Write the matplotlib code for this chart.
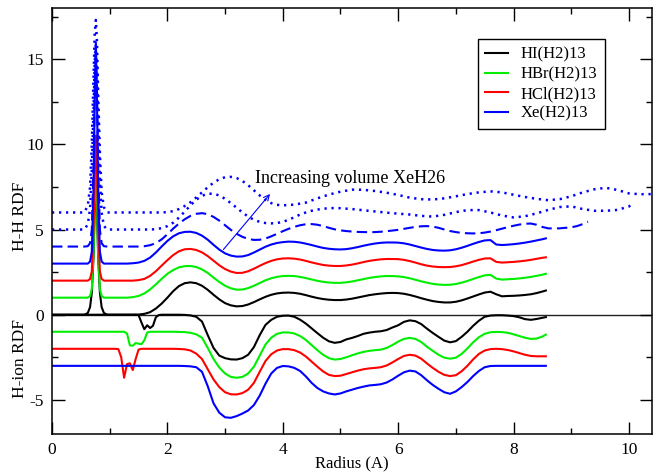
import matplotlib
matplotlib.use("Agg")
import matplotlib.pyplot as plt
from matplotlib.ticker import MultipleLocator

plt.rcParams['font.family'] = ['Liberation Serif', 'DejaVu Serif']
plt.rcParams['axes.unicode_minus'] = False

# ---------------- H-H RDF (raw g(r), drawn with a vertical offset) ----------------
r_hh = [0.0, 0.56, 0.62, 0.66, 0.69, 0.72, 0.74, 0.76, 0.78, 0.80, 0.83, 0.86, 0.90, 0.96,
        1.0, 1.1, 1.2, 1.3, 1.4, 1.5, 1.6, 1.7, 1.8, 1.9,
        2.0, 2.1, 2.2, 2.3, 2.4, 2.5, 2.6, 2.7, 2.8, 2.9,
        3.0, 3.1, 3.2, 3.3, 3.4, 3.5, 3.6, 3.7, 3.8, 3.9,
        4.0, 4.1, 4.2, 4.3, 4.4, 4.5, 4.6, 4.7, 4.8, 4.9,
        5.0, 5.1, 5.2, 5.3, 5.4, 5.5, 5.6, 5.7, 5.8, 5.9,
        6.0, 6.1, 6.2, 6.3, 6.4, 6.5, 6.6, 6.7, 6.8, 6.9,
        7.0, 7.1, 7.2, 7.3, 7.4, 7.5, 7.6, 7.7, 7.8, 7.9,
        8.0, 8.1, 8.2, 8.3, 8.4, 8.5, 8.56]

hh_hi = [0, 0, 0.1, 0.45, 1.3, 3.4, 6.0, 8.0, 6.0, 3.4, 1.3, 0.45, 0.1, 0,
         0, 0, 0, 0, 0, 0.01, 0.05, 0.15, 0.36, 0.65,
         1.0, 1.38, 1.68, 1.85, 1.9, 1.85, 1.7, 1.46, 1.17, 0.9,
         0.68, 0.55, 0.49, 0.51, 0.6, 0.74, 0.9, 1.05, 1.17, 1.25,
         1.29, 1.3, 1.28, 1.23, 1.15, 1.06, 0.98, 0.92, 0.88, 0.86,
         0.86, 0.89, 0.94, 1.01, 1.08, 1.15, 1.2, 1.24, 1.27, 1.28,
         1.27, 1.23, 1.16, 1.07, 0.97, 0.88, 0.8, 0.75, 0.72, 0.72,
         0.76, 0.84, 0.95, 1.07, 1.19, 1.3, 1.35, 1.2, 1.08, 1.1,
         1.11, 1.13, 1.16, 1.2, 1.27, 1.36, 1.42]

hh_hbr = [0, 0, 0, 0.1, 0.5, 2.6, 5.6, 7.6, 5.6, 2.6, 0.5, 0.1, 0, 0,
          0, 0, 0, 0, 0.03, 0.1, 0.25, 0.48, 0.78, 1.1,
          1.4, 1.62, 1.78, 1.85, 1.86, 1.8, 1.66, 1.45, 1.18, 0.92,
          0.7, 0.55, 0.47, 0.48, 0.56, 0.7, 0.86, 1.02, 1.14, 1.22,
          1.27, 1.28, 1.27, 1.22, 1.15, 1.07, 0.99, 0.93, 0.89, 0.87,
          0.87, 0.9, 0.95, 1.02, 1.09, 1.16, 1.21, 1.25, 1.27, 1.27,
          1.25, 1.21, 1.14, 1.05, 0.96, 0.88, 0.81, 0.77, 0.75, 0.76,
          0.8, 0.88, 0.98, 1.1, 1.21, 1.31, 1.34, 1.12, 1.06, 1.08,
          1.1, 1.13, 1.17, 1.22, 1.28, 1.35, 1.4]

hh_hcl = [0, 0, 0, 0.1, 0.55, 3.0, 6.3, 8.5, 6.3, 3.0, 0.55, 0.1, 0, 0,
          0, 0, 0, 0, 0, 0.03, 0.1, 0.28, 0.55, 0.88,
          1.2, 1.5, 1.72, 1.84, 1.86, 1.8, 1.66, 1.44, 1.17, 0.9,
          0.68, 0.53, 0.45, 0.46, 0.55, 0.7, 0.87, 1.03, 1.16, 1.25,
          1.3, 1.31, 1.29, 1.24, 1.16, 1.07, 0.99, 0.92, 0.88, 0.86,
          0.86, 0.89, 0.94, 1.01, 1.09, 1.16, 1.21, 1.25, 1.27, 1.27,
          1.26, 1.22, 1.15, 1.06, 0.96, 0.88, 0.83, 0.8, 0.79, 0.8,
          0.84, 0.91, 1.01, 1.12, 1.22, 1.3, 1.31, 1.1, 1.06, 1.08,
          1.1, 1.13, 1.17, 1.22, 1.28, 1.34, 1.37]

hh_xe = [0, 0, 0, 0.12, 0.7, 4.5, 9.5, 13.0, 9.5, 4.5, 0.7, 0.12, 0, 0,
         0, 0, 0, 0, 0.02, 0.06, 0.16, 0.35, 0.65, 1.0,
         1.33, 1.6, 1.78, 1.86, 1.87, 1.8, 1.64, 1.4, 1.1, 0.82,
         0.6, 0.47, 0.41, 0.42, 0.5, 0.65, 0.82, 0.99, 1.12, 1.21,
         1.26, 1.29, 1.28, 1.24, 1.17, 1.09, 1.0, 0.92, 0.87, 0.84,
         0.83, 0.85, 0.9, 0.97, 1.05, 1.12, 1.18, 1.22, 1.24, 1.24,
         1.23, 1.19, 1.12, 1.03, 0.94, 0.86, 0.8, 0.77, 0.76, 0.78,
         0.84, 0.93, 1.04, 1.16, 1.27, 1.36, 1.38, 1.12, 1.09, 1.11,
         1.14, 1.18, 1.23, 1.29, 1.36, 1.43, 1.48]

# XeH26 at increasing volume (dashed, then two dotted)
r_vol1 = r_hh[:-1] + [8.6, 8.7, 8.8, 8.9, 9.0, 9.1, 9.2, 9.29]
hh_vol1 = [0, 0, 0.02, 0.2, 1.0, 4.8, 9.0, 11.5, 9.0, 4.8, 1.0, 0.2, 0.02, 0,
           0, 0, 0, 0, 0, 0, 0.02, 0.08, 0.2, 0.42,
           0.72, 1.05, 1.35, 1.6, 1.8, 1.92, 1.96, 1.9, 1.74, 1.52,
           1.25, 0.98, 0.75, 0.57, 0.45, 0.39, 0.4, 0.47, 0.6, 0.75,
           0.9, 1.04, 1.16, 1.25, 1.31, 1.32, 1.28, 1.2, 1.1, 1.01,
           0.95, 0.91, 0.88, 0.86, 0.85, 0.84, 0.85, 0.87, 0.9, 0.94,
           0.98, 1.04, 1.1, 1.15, 1.19, 1.2, 1.17, 1.1, 1.0, 0.91,
           0.85, 0.8, 0.78, 0.77, 0.78, 0.82, 0.88, 0.96, 1.05, 1.14,
           1.22, 1.29, 1.34, 1.35, 1.28, 1.15,
           1.07, 1.06, 1.07, 1.1, 1.13, 1.2, 1.32, 1.46]

r_vol2 = [0.0, 0.56, 0.62, 0.66, 0.69, 0.72, 0.74, 0.76, 0.78, 0.80, 0.83, 0.86, 0.90, 0.96,
          1.0, 1.2, 1.4, 1.6, 1.7, 1.8, 1.9,
          2.0, 2.1, 2.2, 2.3, 2.4, 2.5, 2.6, 2.7, 2.8, 2.9,
          3.0, 3.1, 3.2, 3.3, 3.4, 3.5, 3.6, 3.7, 3.8, 3.9,
          4.0, 4.1, 4.2, 4.3, 4.4, 4.5, 4.6, 4.7, 4.8, 4.9, 5.0,
          5.2, 5.4, 5.6, 5.8, 6.0, 6.2, 6.4, 6.6, 6.8, 7.0,
          7.2, 7.4, 7.6, 7.8, 8.0, 8.2, 8.4, 8.6, 8.8, 9.0,
          9.2, 9.4, 9.6, 9.8, 10.0, 10.07]
hh_vol2 = [0, 0, 0.3, 1.2, 3.5, 7.0, 9.8, 10.8, 9.5, 6.5, 3.0, 1.0, 0.2, 0,
           0, 0, 0, 0, 0, 0.02, 0.08,
           0.2, 0.4, 0.7, 1.05, 1.42, 1.75, 1.98, 2.1, 2.1, 2.0,
           1.8, 1.55, 1.28, 1.0, 0.76, 0.57, 0.45, 0.38, 0.36, 0.38,
           0.45, 0.57, 0.72, 0.88, 1.0, 1.1, 1.17, 1.22, 1.25, 1.26, 1.25,
           1.2, 1.13, 1.06, 0.99, 0.93, 0.88, 0.8, 0.76, 0.86, 1.02,
           1.14, 1.14, 1.0, 0.82, 0.71, 0.78, 0.95, 1.15, 1.32, 1.36,
           1.2, 1.1, 1.1, 1.15, 1.35, 1.55]

r_vol3 = [0.0, 0.56, 0.62, 0.66, 0.69, 0.72, 0.74, 0.76, 0.78, 0.80, 0.83, 0.86, 0.90, 0.96,
          1.0, 1.2, 1.4, 1.6, 1.8,
          1.9, 2.0, 2.1, 2.2, 2.3, 2.4, 2.5, 2.6, 2.7, 2.8, 2.9,
          3.0, 3.1, 3.2, 3.3, 3.4, 3.5, 3.6, 3.7, 3.8, 3.9, 4.0,
          4.2, 4.4, 4.6, 4.8, 5.0, 5.2, 5.4, 5.6, 5.8, 6.0,
          6.2, 6.4, 6.6, 6.8, 7.0, 7.2, 7.4, 7.6, 7.8, 8.0,
          8.2, 8.4, 8.6, 8.8, 9.0, 9.2, 9.4, 9.6, 9.8, 10.0,
          10.2, 10.4]
hh_vol3 = [0, 0, 0.4, 1.5, 4.0, 8.0, 10.5, 11.3, 10.0, 7.0, 3.5, 1.2, 0.3, 0,
           0, 0, 0, 0, 0,
           0, 0.02, 0.08, 0.2, 0.38, 0.6, 0.88, 1.18, 1.48, 1.75, 1.95,
           2.07, 2.09, 2.02, 1.85, 1.6, 1.3, 1.0, 0.74, 0.55, 0.45, 0.42,
           0.46, 0.58, 0.83, 1.05, 1.22, 1.34, 1.33, 1.26, 1.16, 1.03,
           0.87, 0.78, 0.76, 0.83, 0.95, 1.08, 1.18, 1.24, 1.18, 1.04,
           0.91, 0.8, 0.72, 0.78, 0.95, 1.18, 1.36, 1.45, 1.32, 1.12,
           1.07, 1.08]

# ---------------- H-ion RDF (raw g(r), drawn downwards) ----------------
r_hion = [0.0, 1.1, 1.15, 1.2, 1.25, 1.3, 1.35, 1.4, 1.45, 1.5, 1.55, 1.6, 1.65, 1.7, 1.75, 1.8, 1.85, 1.9,
          2.0, 2.1, 2.2, 2.3, 2.4, 2.5, 2.6, 2.7, 2.8, 2.9,
          3.0, 3.1, 3.2, 3.3, 3.4, 3.5, 3.6, 3.7, 3.8, 3.9,
          4.0, 4.1, 4.2, 4.3, 4.4, 4.5, 4.6, 4.7, 4.8, 4.9,
          5.0, 5.1, 5.2, 5.3, 5.4, 5.5, 5.6, 5.7, 5.8, 5.9,
          6.0, 6.1, 6.2, 6.3, 6.4, 6.5, 6.6, 6.7, 6.8, 6.9,
          7.0, 7.1, 7.2, 7.3, 7.4, 7.5, 7.6, 7.7, 7.8, 7.9,
          8.0, 8.1, 8.2, 8.3, 8.4, 8.5, 8.56]

hion_hi = [0, 0, 0, 0, 0, 0, 0, 0, 0, 0.02, 0.45, 0.85, 0.62, 0.78, 0.65, 0.15, 0.02, 0,
           0, 0, 0, 0.01, 0.04, 0.12, 0.4, 1.2, 1.95, 2.4,
           2.55, 2.62, 2.63, 2.55, 2.35, 1.9, 1.2, 0.6, 0.3, 0.12,
           0.06, 0.05, 0.12, 0.29, 0.52, 0.8, 1.08, 1.35, 1.56, 1.65,
           1.6, 1.45, 1.36, 1.25, 1.12, 1.05, 1.0, 0.97, 0.9, 0.75,
           0.62, 0.42, 0.33, 0.38, 0.55, 0.82, 1.07, 1.3, 1.52, 1.62,
           1.55, 1.3, 1.0, 0.65, 0.35, 0.12, 0.05, 0.03, 0.03, 0.05,
           0.08, 0.15, 0.26, 0.3, 0.25, 0.18, 0.14]

hion_hbr = [0, 0, 0, 0, 0, 0.1, 0.8, 0.82, 0.66, 0.7, 0.73, 0.5, 0.05, 0, 0, 0, 0, 0,
            0, 0, 0.01, 0.02, 0.06, 0.15, 0.35, 0.95, 1.6, 2.1,
            2.45, 2.65, 2.7, 2.65, 2.45, 2.05, 1.4, 0.75, 0.35, 0.12,
            0.04, 0.04, 0.1, 0.25, 0.48, 0.78, 1.08, 1.35, 1.55, 1.63,
            1.6, 1.5, 1.38, 1.27, 1.18, 1.12, 1.08, 1.05, 0.95, 0.78,
            0.58, 0.42, 0.36, 0.42, 0.6, 0.88, 1.12, 1.35, 1.52, 1.58,
            1.52, 1.3, 0.98, 0.62, 0.32, 0.12, 0.03, 0.01, 0.02, 0.06,
            0.15, 0.25, 0.35, 0.42, 0.4, 0.28, 0.17]

hion_hcl = [0, 0, 0.02, 0.5, 1.7, 0.9, 0.85, 1.25, 0.6, 0.05, 0, 0, 0, 0, 0, 0, 0, 0,
            0, 0, 0.01, 0.03, 0.1, 0.28, 0.6, 1.2, 1.8, 2.25,
            2.55, 2.67, 2.68, 2.6, 2.4, 2.0, 1.35, 0.72, 0.32, 0.1,
            0.02, 0.02, 0.08, 0.22, 0.45, 0.75, 1.05, 1.33, 1.53, 1.6,
            1.58, 1.48, 1.38, 1.28, 1.2, 1.15, 1.12, 1.08, 0.98, 0.8,
            0.6, 0.42, 0.35, 0.4, 0.58, 0.86, 1.12, 1.35, 1.53, 1.6,
            1.55, 1.32, 1.0, 0.62, 0.3, 0.1, 0.02, 0.0, 0.02, 0.07,
            0.15, 0.25, 0.35, 0.42, 0.44, 0.44, 0.44]

hion_xe = [0, 0, 0, 0, 0, 0, 0, 0, 0, 0, 0, 0, 0, 0, 0, 0, 0, 0,
           0, 0, 0, 0.01, 0.03, 0.08, 0.35, 1.2, 2.2, 2.75,
           3.02, 3.05, 2.95, 2.8, 2.62, 2.3, 1.75, 1.05, 0.45, 0.12,
           0.01, 0.03, 0.12, 0.3, 0.62, 1.0, 1.3, 1.5, 1.62, 1.68,
           1.62, 1.5, 1.4, 1.3, 1.22, 1.15, 1.12, 1.08, 0.98, 0.8,
           0.58, 0.38, 0.28, 0.33, 0.55, 0.85, 1.12, 1.35, 1.55, 1.64,
           1.5, 1.25, 0.95, 0.6, 0.3, 0.08, 0.01, 0, 0, 0,
           0, 0, 0, 0, 0, 0, 0]

labels = ['HI(H2)13', 'HBr(H2)13', 'HCl(H2)13', 'Xe(H2)13']
colors = ['#000000', '#00ee00', '#ff0000', '#0000ff']
hh_offsets = [0, 1, 2, 3]
hion_offsets = [0, -1, -2, -3]


fig = plt.figure(figsize=(6.53, 4.74), dpi=100)
ax = fig.add_axes([52 / 653, 40 / 474, 600 / 653, 426 / 474])

ax.axhline(0, color='#222222', lw=1.0, zorder=1)

hh_sets = [hh_hi, hh_hbr, hh_hcl, hh_xe]
hion_sets = [hion_hi, hion_hbr, hion_hcl, hion_xe]
for g, lab, c, off in zip(hh_sets, labels, colors, hh_offsets):
    ax.plot(r_hh, [v + off for v in g], color=c, lw=1.5, label=lab, zorder=2)
for g, c, off in zip(hion_sets, colors, hion_offsets):
    ax.plot(r_hion, [off - v for v in g], color=c, lw=1.5, zorder=2)

# volume series: dashed, then two dotted
ax.plot(r_vol1, [v + 4 for v in hh_vol1], color='#0000ff', lw=1.5, ls=(0, (5, 2.5)), zorder=2)
ax.plot(r_vol2, [v + 5 for v in hh_vol2], color='#0000ff', lw=1.8, ls=(0, (0.9, 1.9)), zorder=2)
ax.plot(r_vol3, [v + 6 for v in hh_vol3], color='#0000ff', lw=1.8, ls=(0, (0.9, 1.9)), zorder=2)

ax.annotate('', xy=(3.81, 7.21), xytext=(2.94, 3.7),
            arrowprops=dict(arrowstyle='->', color='#0000ff', lw=0.8, mutation_scale=10))
ax.text(3.52, 7.74, 'Increasing volume XeH26', fontsize=13, va='baseline', ha='left')

ax.set_xlim(0, 10.4)
ax.set_ylim(-7, 18)
ax.xaxis.set_major_locator(MultipleLocator(2))
ax.xaxis.set_minor_locator(MultipleLocator(1))
ax.yaxis.set_major_locator(MultipleLocator(5))
ax.yaxis.set_minor_locator(MultipleLocator(2.5))
ax.tick_params(which='both', direction='in', top=True, right=True, labelsize=12.5, width=1.0)
ax.tick_params(which='major', length=9, pad=6)
ax.tick_params(which='minor', length=4.5)
for s in ax.spines.values():
    s.set_linewidth(1.1)

ax.set_xlabel('Radius (A)', fontsize=12, labelpad=-2)
fig.text(19.5 / 653, 1 - 216 / 474, 'H-H RDF', rotation=90, ha='center', va='center', fontsize=12.5)
fig.text(19.5 / 653, 1 - 359 / 474, 'H-ion RDF', rotation=90, ha='center', va='center', fontsize=12.5)

leg = ax.legend(loc='upper right', bbox_to_anchor=(605 / 653, 1 - 39.3 / 474),
                bbox_transform=fig.transFigure, borderaxespad=0, fontsize=12,
                handlelength=1.4, handletextpad=0.75, labelspacing=0.22,
                fancybox=False, framealpha=1, edgecolor='black', borderpad=0.45)
leg.get_frame().set_linewidth(1.0)

fig.savefig('out.png', dpi=100)
